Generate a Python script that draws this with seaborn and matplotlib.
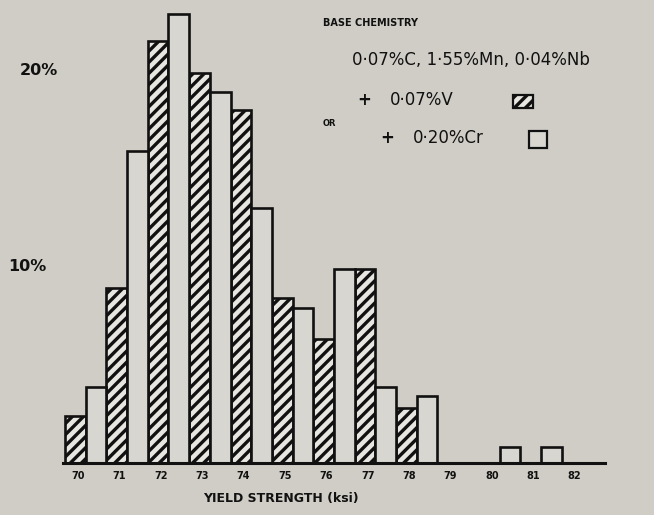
import matplotlib
matplotlib.use("Agg")
import matplotlib.pyplot as plt
from matplotlib.patches import Rectangle
from matplotlib.transforms import blended_transform_factory
import seaborn as sns
import pandas as pd

# Yield strength bins (ksi) and share of heats in each bin (%)
bins = ["70", "71", "72", "73", "74", "75", "76", "77", "78", "79", "80", "81", "82"]
vanadium_pct = [2.4, 8.9, 21.5, 19.9, 18.0, 8.4, 6.3, 9.9, 2.8, 0, 0, 0, 0]
chromium_pct = [3.9, 15.9, 22.9, 18.9, 13.0, 7.9, 9.9, 3.9, 3.4, 0, 0.8, 0.8, 0]
alloys = ["+ 0·07%V", "+ 0·20%Cr"]
y_ticks = [10, 20]
y_tick_labels = ["10%", "20%"]

df = pd.DataFrame({
    "bin": bins * 2,
    "alloy": [alloys[0]] * len(bins) + [alloys[1]] * len(bins),
    "pct": vanadium_pct + chromium_pct,
})

paper = "#cfcdc5"
open_fill = "#d9d7d0"
hatch_fill = "#e8e6e0"
ink = "#111111"
hatch = "///"

sns.set_theme(style="white")
plt.rcParams["font.family"] = ["DejaVu Sans"]
plt.rcParams["hatch.linewidth"] = 2.4
plt.rcParams["hatch.color"] = ink

W, H = 654, 515
fig = plt.figure(figsize=(W / 100, H / 100), dpi=100, facecolor=paper)
ax = fig.add_axes([63 / W, (H - 463) / H, 542 / W, 462 / H])
ax.set_facecolor(paper)

sns.barplot(data=df, x="bin", y="pct", hue="alloy", hue_order=alloys,
            palette=[open_fill, open_fill], width=1.0, dodge=True,
            edgecolor=ink, linewidth=1.9, legend=False, ax=ax)

# hatch the vanadium bars
for bar in ax.containers[0]:
    bar.set_hatch(hatch)
    bar.set_facecolor(hatch_fill)

ax.set_xlim(-0.548, 12.548)
ax.set_ylim(0, 463 / 19.65)

for side in ["left", "right", "top"]:
    ax.spines[side].set_visible(False)
ax.spines["bottom"].set_linewidth(2.2)
ax.spines["bottom"].set_color(ink)

ax.set_xticks([i - 0.186 for i in range(len(bins))])
ax.set_xticklabels(bins, fontsize=7, fontweight="bold", color=ink)
ax.tick_params(axis="x", length=0, pad=6)
ax.set_yticks([])
ax.set_ylabel("")

ax.set_xlabel("YIELD STRENGTH (ksi)", fontsize=9, fontweight="bold", color=ink)
ax.xaxis.set_label_coords(218 / 542, -0.062)

W_fig = fig.transFigure
ytrans = blended_transform_factory(W_fig, ax.transData)

# percentage scale labels
for val, lab, xpx in zip(y_ticks, y_tick_labels, [27, 39]):
    ax.text(xpx / W, val, lab, transform=ytrans,
            ha="center", va="center", fontsize=11.5, fontweight="bold", color=ink)


def fx(x):
    return x / W


def fy(y):
    return 1 - y / H


# chemistry key
fig.text(fx(323), fy(23), "BASE CHEMISTRY", fontsize=7, fontweight="bold",
         color=ink, ha="left", va="center")
fig.text(fx(352), fy(60), "0·07%C, 1·55%Mn, 0·04%Nb", fontsize=12,
         color=ink, ha="left", va="center")
fig.text(fx(357), fy(100), "+", fontsize=12, fontweight="bold", color=ink,
         ha="left", va="center")
fig.text(fx(390), fy(100), "0·07%V", fontsize=12, color=ink, ha="left", va="center")
fig.text(fx(323), fy(124), "OR", fontsize=6, fontweight="bold", color=ink,
         ha="left", va="center")
fig.text(fx(380), fy(138), "+", fontsize=12, fontweight="bold", color=ink,
         ha="left", va="center")
fig.text(fx(413), fy(138), "0·20%Cr", fontsize=12, color=ink, ha="left", va="center")

fig.patches.append(Rectangle((fx(513), fy(108)), 20 / W, 13 / H, transform=W_fig,
                             facecolor=hatch_fill, edgecolor=ink, linewidth=1.6,
                             hatch=hatch, figure=fig))
fig.patches.append(Rectangle((fx(529), fy(148)), 18 / W, 17 / H, transform=W_fig,
                             facecolor=open_fill, edgecolor=ink, linewidth=1.6, figure=fig))

fig.savefig("out.png", dpi=100, facecolor=paper)
